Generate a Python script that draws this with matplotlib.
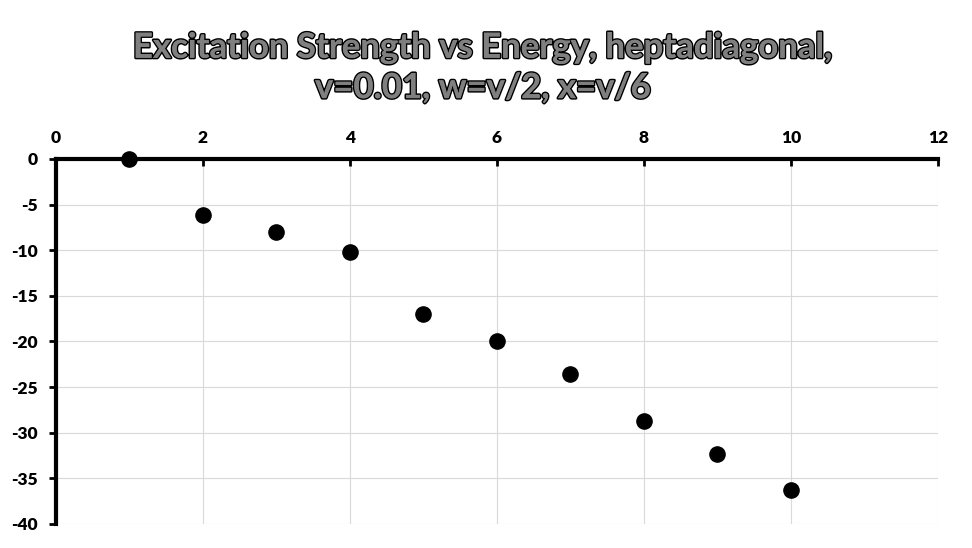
import matplotlib
matplotlib.use("Agg")
import matplotlib.pyplot as plt
import matplotlib.patheffects as pe
import numpy as np

# data
energy = [1, 2, 3, 4, 5, 6, 7, 8, 9, 10]
strength = [0.0, -6.15, -8.0, -10.2, -17.0, -19.95, -23.55, -28.7, -32.3, -36.3]

x_ticks = [0, 2, 4, 6, 8, 10, 12]
y_ticks = [0, -5, -10, -15, -20, -25, -30, -35, -40]

title = "Excitation Strength vs Energy, heptadiagonal,\nv=0.01, w=v/2, x=v/6"

plt.rcParams["font.family"] = ["Lato", "DejaVu Sans"]
plt.rcParams["axes.unicode_minus"] = False

fig = plt.figure(figsize=(9.72, 5.48), dpi=100)
ax = fig.add_axes([0.0576, 0.0438, 0.9074, 0.6661])

ax.scatter(energy, strength, s=120, color="black", zorder=3, clip_on=False)

ax.set_xlim(0, 12)
ax.set_ylim(-40, 0)
ax.set_xticks(x_ticks)
ax.set_yticks(y_ticks)
ax.xaxis.tick_top()
ax.tick_params(axis="x", direction="in", length=5, width=2, pad=9, labelsize=12.5)
ax.tick_params(axis="y", direction="out", length=5, width=2, pad=8, labelsize=12.5)
for lab in ax.get_xticklabels() + ax.get_yticklabels():
    lab.set_fontweight("heavy")

ax.grid(True, color="#d9d9d9", linewidth=0.8)
ax.set_axisbelow(True)
for side in ["right", "bottom"]:
    ax.spines[side].set_visible(False)
for side in ["top", "left"]:
    ax.spines[side].set_linewidth(3)
    ax.spines[side].set_zorder(4)

fig.text(0.497, 0.876, title, ha="center", va="center", fontsize=25,
         fontweight="bold", color="#7f7f7f", linespacing=1.32,
         path_effects=[pe.withStroke(linewidth=2.2, foreground="black"), pe.Normal()])

fig.savefig("out.png", dpi=100)
